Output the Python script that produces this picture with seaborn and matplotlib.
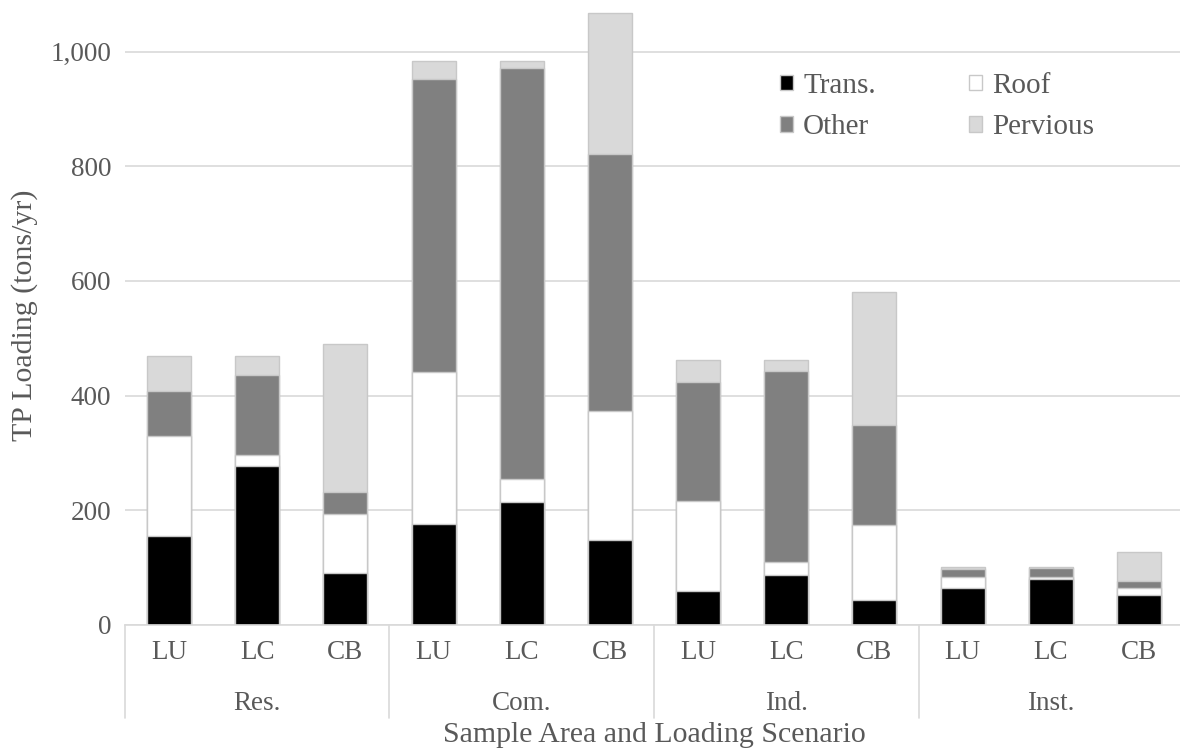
import seaborn as sns
import matplotlib.pyplot as plt
import matplotlib.transforms as mtransforms
from matplotlib.patches import Patch
import pandas as pd
import numpy as np

# Data (tons/yr)
areas = ['Res.', 'Com.', 'Ind.', 'Inst.']
scenarios = ['LU', 'LC', 'CB']
trans = [155, 277, 91, 177, 215, 149, 59, 87, 44, 65, 81, 52]
roof = [175, 19, 103, 265, 40, 225, 157, 23, 130, 18, 2, 13]
other = [78, 140, 38, 510, 717, 448, 208, 333, 175, 14, 17, 12]
pervious = [62, 34, 258, 31, 11, 246, 38, 19, 232, 4, 2, 50]

sources = ['Trans.', 'Roof', 'Other', 'Pervious']
colors = ['#000000', '#FFFFFF', '#808080', '#D9D9D9']

keys = [a + '-' + s for a in areas for s in scenarios]
df = pd.DataFrame({'key': keys, 'Trans.': trans, 'Roof': roof,
                   'Other': other, 'Pervious': pervious})
# cumulative totals, drawn tallest first so they stack
df['c1'] = df['Trans.']
df['c2'] = df['c1'] + df['Roof']
df['c3'] = df['c2'] + df['Other']
df['c4'] = df['c3'] + df['Pervious']

sns.set_style('white')
plt.rcParams['font.family'] = ['Liberation Serif', 'DejaVu Serif']
text_col = '#595959'

fig = plt.figure(figsize=(11.8, 7.51), dpi=100)
ax = fig.add_axes([125 / 1180, 126 / 751, 1058 / 1180, 625 / 751])

for col, c in zip(['c4', 'c3', 'c2', 'c1'], colors[::-1]):
    sns.barplot(data=df, x='key', y=col, order=keys, color=c, width=0.5,
                saturation=1, edgecolor='#C8C8C8', linewidth=1, ax=ax)

ax.set_ylim(0, 1090)
ax.set_xlim(-0.5, 11.5)
ax.set_yticks(range(0, 1001, 200))
ax.set_yticklabels([f'{v:,}' for v in range(0, 1001, 200)])
ax.set_xticks(range(12))
ax.set_xticklabels(scenarios * 4)
ax.tick_params(axis='both', length=0, labelsize=19.5, colors=text_col)
ax.tick_params(axis='x', pad=11)
ax.tick_params(axis='y', pad=10)
ax.yaxis.grid(True, color='#D9D9D9', linewidth=1.2)
ax.set_axisbelow(True)
for s in ['top', 'right', 'left']:
    ax.spines[s].set_visible(False)
ax.spines['bottom'].set_color('#D9D9D9')
ax.spines['bottom'].set_linewidth(1.2)
ax.set_xlabel('')
ax.set_ylabel('')

# group labels and separators under the axis
trans_b = mtransforms.blended_transform_factory(ax.transData, ax.transAxes)
for i, a in enumerate(areas):
    ax.text(3 * i + 1, -0.126, a, transform=trans_b, ha='center', va='center',
            fontsize=19.5, color=text_col)
for xb in [-0.5, 2.5, 5.5, 8.5, 11.5]:
    ax.plot([xb, xb], [0, -0.149], transform=trans_b, color='#D9D9D9',
            linewidth=1.2, clip_on=False)

ax.text(0.5, -0.176, 'Sample Area and Loading Scenario', transform=ax.transAxes,
        ha='center', va='center', fontsize=21.5, color=text_col)
fig.text(25 / 1180, 1 - 315 / 751, 'TP Loading (tons/yr)', rotation=90,
         ha='center', va='center', fontsize=21.5, color=text_col)

handles = [Patch(facecolor=c, edgecolor='#C8C8C8', linewidth=1) for c in colors]
order = [0, 2, 1, 3]
ax.legend([handles[i] for i in order], [sources[i] for i in order], ncol=2,
          loc='upper left', bbox_to_anchor=(780 / 1180, 1 - 73 / 751),
          bbox_transform=fig.transFigure, frameon=False, fontsize=21,
          borderpad=0, borderaxespad=0,
          handlelength=0.45, handleheight=0.45, handletextpad=0.34,
          columnspacing=3.2, labelspacing=0.52, labelcolor=text_col)

plt.savefig('out.png', dpi=100)
